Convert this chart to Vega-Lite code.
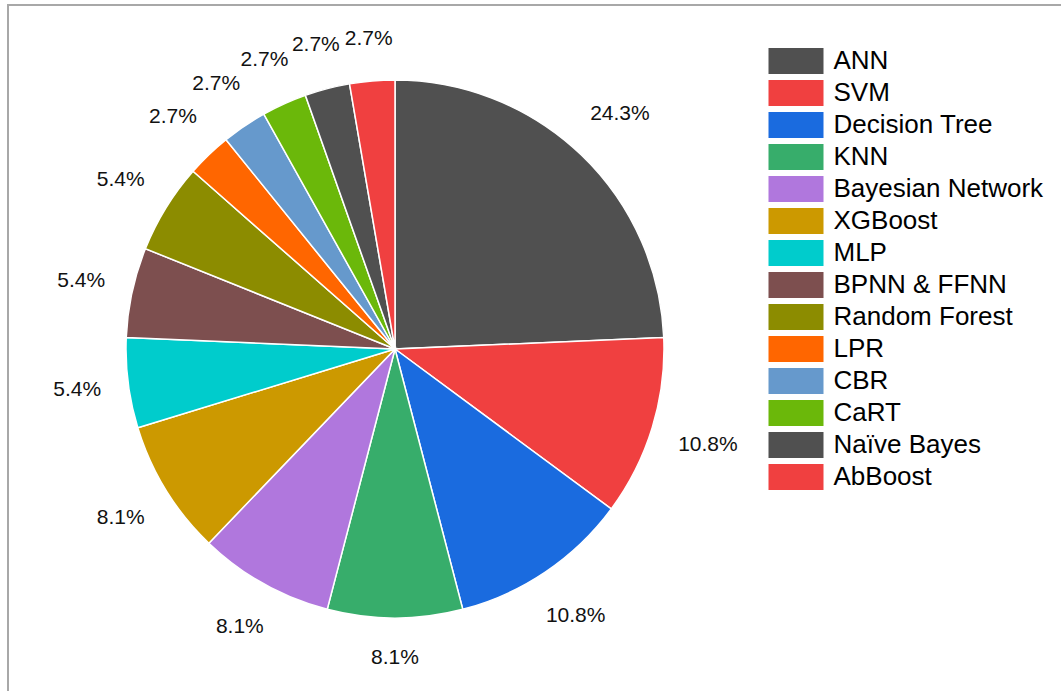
{
  "$schema": "https://vega.github.io/schema/vega-lite/v6.json",
  "width": 1500,
  "height": 900,
  "autosize": "none",
  "padding": {"left": 8, "top": 5, "right": -447, "bottom": -214},
  "background": "white",
  "view": {"stroke": "#a8a8a8", "strokeWidth": 2, "fill": "white"},
  "config": {
    "legend": {
      "symbolType": "M-2,-0.946H2V0.946H-2Z",
      "symbolSize": 756.25,
      "symbolStrokeWidth": 0,
      "symbolOpacity": 1,
      "labelFontSize": 26,
      "labelFont": "Liberation Sans",
      "labelColor": "#000000",
      "labelOffset": 23.5,
      "labelLimit": 400,
      "rowPadding": 4,
      "padding": 0
    }
  },
  "data": {
    "values": [
      {"method": "ANN", "value": 24.3, "idx": 1},
      {"method": "SVM", "value": 10.8, "idx": 2},
      {"method": "Decision Tree", "value": 10.8, "idx": 3},
      {"method": "KNN", "value": 8.1, "idx": 4},
      {"method": "Bayesian Network", "value": 8.1, "idx": 5},
      {"method": "XGBoost", "value": 8.1, "idx": 6},
      {"method": "MLP", "value": 5.4, "idx": 7},
      {"method": "BPNN & FFNN", "value": 5.4, "idx": 8},
      {"method": "Random Forest", "value": 5.4, "idx": 9},
      {"method": "LPR", "value": 2.7, "idx": 10},
      {"method": "CBR", "value": 2.7, "idx": 11},
      {"method": "CaRT", "value": 2.7, "idx": 12},
      {"method": "Naïve Bayes", "value": 2.7, "idx": 13},
      {"method": "AbBoost", "value": 2.7, "idx": 14}
    ]
  },
  "transform": [
    {"calculate": "format(datum.value, '.1f') + '%'", "as": "label"}
  ],
  "encoding": {
    "theta": {"field": "value", "type": "quantitative", "stack": true},
    "order": {"field": "idx", "type": "quantitative", "sort": "ascending"}
  },
  "layer": [
    {
      "mark": {"type": "arc", "outerRadius": 269, "x": 387, "y": 344, "stroke": "white", "strokeWidth": 1.5},
      "encoding": {
        "color": {
          "field": "method",
          "type": "nominal",
          "sort": ["ANN", "SVM", "Decision Tree", "KNN", "Bayesian Network", "XGBoost", "MLP", "BPNN & FFNN", "Random Forest", "LPR", "CBR", "CaRT", "Naïve Bayes", "AbBoost"],
          "scale": {
            "domain": ["ANN", "SVM", "Decision Tree", "KNN", "Bayesian Network", "XGBoost", "MLP", "BPNN & FFNN", "Random Forest", "LPR", "CBR", "CaRT", "Naïve Bayes", "AbBoost"],
            "range": ["#505050", "#f04040", "#1a6bdf", "#37ad6b", "#b077dd", "#cc9900", "#00cccc", "#7d4f4f", "#8c8c00", "#ff6600", "#6699cc", "#6bb80a", "#505050", "#f04040"]
          },
          "legend": {"orient": "none", "legendX": 774, "legendY": 42, "title": null}
        }
      }
    },
    {
      "mark": {
        "type": "text",
        "x": 387,
        "y": 344,
        "radius": {"expr": "297 + (datum.value >= 10 ? 28 : 22) * abs(sin((datum.value_start + datum.value_end) * PI / 99.9)) + 12 * abs(cos((datum.value_start + datum.value_end) * PI / 99.9))"},
        "fontSize": 21,
        "font": "Liberation Sans",
        "fill": "#111111"
      },
      "encoding": {
        "text": {"field": "label", "type": "nominal"}
      }
    }
  ]
}
